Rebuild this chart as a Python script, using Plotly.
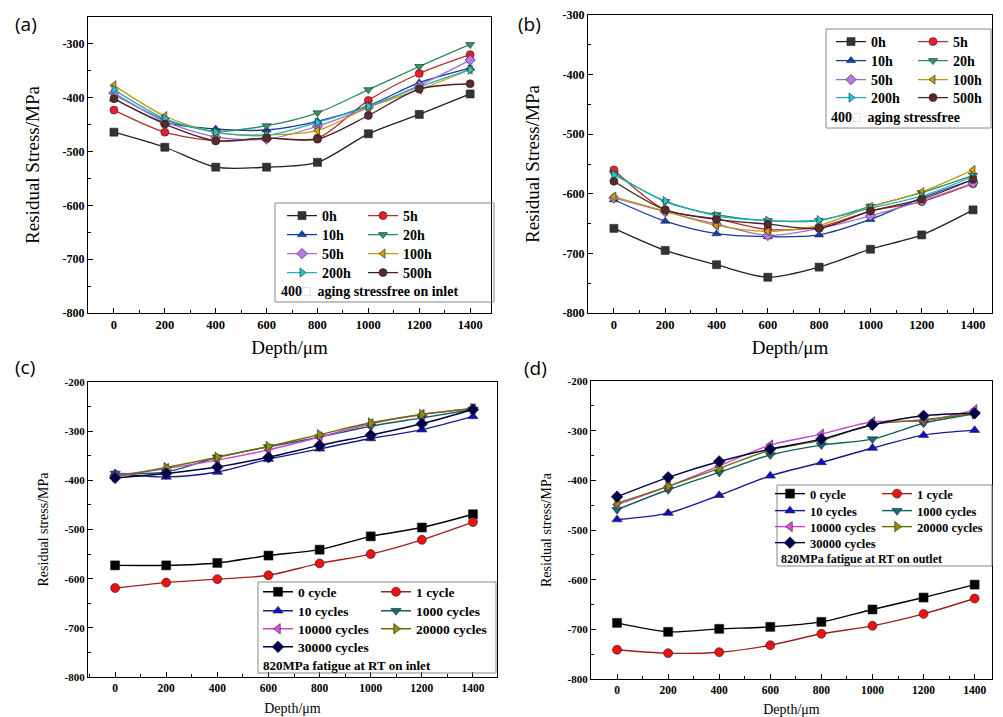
import plotly.graph_objects as go

W, H = 1003, 717
def fx(p): return p / W
def fy(p): return 1 - p / H

depth = [0, 200, 400, 600, 800, 1000, 1200, 1400]

# ---- panel (a): 400 aging, stress free, inlet
aging_labels = ["0h", "5h", "10h", "20h", "50h", "100h", "200h", "500h"]
a_0h   = [-464, -492, -529, -529, -520, -467, -431, -393]
a_5h   = [-423, -464, -480, -475, -475, -405, -355, -320]
a_10h  = [-402, -446, -458, -460, -444, -415, -372, -345]
a_20h  = [-394, -441, -462, -452, -428, -385, -342, -301]
a_50h  = [-391, -444, -473, -477, -453, -418, -377, -330]
a_100h = [-377, -434, -465, -469, -461, -418, -385, -348]
a_200h = [-385, -439, -464, -470, -446, -416, -380, -348]
a_500h = [-402, -449, -480, -475, -477, -433, -384, -374]

# ---- panel (b): 400 aging, stress free
b_0h   = [-658, -695, -719, -740, -723, -693, -669, -627]
b_5h   = [-560, -627, -642, -660, -656, -629, -613, -583]
b_10h  = [-610, -646, -667, -672, -669, -643, -607, -576]
b_20h  = [-566, -613, -635, -645, -645, -621, -598, -569]
b_50h  = [-607, -630, -651, -670, -658, -637, -612, -582]
b_100h = [-605, -629, -653, -663, -653, -622, -597, -560]
b_200h = [-568, -612, -637, -645, -644, -624, -604, -571]
b_500h = [-579, -627, -643, -651, -658, -629, -609, -576]

# ---- panel (c): 820MPa fatigue at RT, inlet
cycle_labels = ["0 cycle", "1 cycle", "10 cycles", "1000 cycles",
                "10000 cycles", "20000 cycles", "30000 cycles"]
c_0     = [-573, -573, -568, -553, -541, -514, -496, -469]
c_1     = [-619, -608, -601, -593, -569, -550, -521, -485]
c_10    = [-386, -393, -383, -357, -336, -315, -297, -270]
c_1000  = [-386, -383, -353, -332, -312, -290, -273, -256]
c_10000 = [-390, -376, -359, -338, -312, -285, -266, -254]
c_20000 = [-393, -374, -353, -331, -307, -283, -266, -254]
c_30000 = [-395, -386, -373, -353, -329, -308, -285, -256]

# ---- panel (d): 820MPa fatigue at RT, outlet
d_0     = [-687, -705, -699, -695, -685, -660, -636, -610]
d_1     = [-741, -748, -746, -732, -709, -693, -669, -638]
d_10    = [-479, -466, -430, -391, -364, -335, -309, -299]
d_1000  = [-459, -419, -384, -349, -329, -317, -285, -266]
d_10000 = [-449, -412, -371, -329, -307, -282, -280, -258]
d_20000 = [-446, -412, -376, -339, -319, -288, -278, -266]
d_30000 = [-433, -394, -362, -337, -317, -288, -270, -265]

xtick_vals = depth
xtick_text = ["0", "200", "400", "600", "800", "1000", "1200", "1400"]
ytick_vals_ab = [-800, -700, -600, -500, -400, -300]
ytick_vals_cd = [-800, -700, -600, -500, -400, -300, -200]

aging_series_a = [a_0h, a_5h, a_10h, a_20h, a_50h, a_100h, a_200h, a_500h]
aging_series_b = [b_0h, b_5h, b_10h, b_20h, b_50h, b_100h, b_200h, b_500h]
cycle_series_c = [c_0, c_1, c_10, c_1000, c_10000, c_20000, c_30000]
cycle_series_d = [d_0, d_1, d_10, d_1000, d_10000, d_20000, d_30000]

aging_style = [
    ("square", "#333333", "#222222"),
    ("circle", "#e8202a", "#b03030"),
    ("triangle-up", "#1040c8", "#1a3a90"),
    ("triangle-down", "#2e9a60", "#2e8b60"),
    ("diamond", "#b878e8", "#a070d0"),
    ("triangle-left", "#d0a000", "#c09a10"),
    ("triangle-right", "#20c8d8", "#20b0c0"),
    ("circle", "#5a2a2a", "#4a2020"),
]
cycle_style = [
    ("square", "#000000", "#000000"),
    ("circle", "#ee1111", "#a02020"),
    ("triangle-up", "#1010c8", "#1a1a90"),
    ("triangle-down", "#107070", "#106060"),
    ("triangle-left", "#e848e8", "#d040d0"),
    ("triangle-right", "#909000", "#707000"),
    ("diamond", "#000050", "#000040"),
]

serif = "Liberation Serif"

fig = go.Figure()
legend_layouts = {}
legend_counter = [0]

def new_legend(text_x, row_y, fs):
    legend_counter[0] += 1
    n = legend_counter[0]
    name = "legend" if n == 1 else f"legend{n}"
    legend_layouts[name] = dict(
        x=fx(text_x - 40), y=fy(row_y), xanchor="left", yanchor="middle",
        bgcolor="rgba(0,0,0,0)", borderwidth=0, itemwidth=30, tracegroupgap=0,
        font=dict(family=serif, size=fs, color="black", weight="bold"))
    return name

def add_panel(idx, series, labels, styles, col_x, row_y, fs, msize, lw):
    xa = "x" if idx == 1 else f"x{idx}"
    ya = "y" if idx == 1 else f"y{idx}"
    for i, (vals, lab, st) in enumerate(zip(series, labels, styles)):
        sym, mc, lc = st
        leg = new_legend(col_x[i % 2], row_y[i // 2], fs)
        fig.add_trace(go.Scatter(
            x=depth, y=vals, name=lab, mode="lines+markers",
            line=dict(color=lc, width=lw, shape="spline", smoothing=0.8),
            marker=dict(symbol=sym, size=msize, color=mc,
                        line=dict(color="#222222", width=0.6)),
            xaxis=xa, yaxis=ya, legend=leg,
        ))

add_panel(1, aging_series_a, aging_labels, aging_style, (322, 403), (216, 235, 254, 273), 14, 8, 1.3)
add_panel(2, aging_series_b, aging_labels, aging_style, (871, 953), (42, 61, 80, 98), 14, 8, 1.3)
add_panel(3, cycle_series_c, cycle_labels, cycle_style, (298, 416), (592, 611, 629, 647), 13.5, 9, 1.4)
add_panel(4, cycle_series_d, cycle_labels, cycle_style, (810, 917), (494, 511, 527, 543), 12.5, 9, 1.4)

def axis_common(rng, dom, tv, tt, fs, dtick_minor):
    return dict(
        range=rng, domain=dom, tickvals=tv, ticktext=tt, automargin=False,
        showline=True, linecolor="black", linewidth=1.2, mirror=True,
        ticks="inside", ticklen=5, tickwidth=1, tickcolor="black",
        minor=dict(ticks="inside", ticklen=3, dtick=dtick_minor, tickcolor="black"),
        showgrid=False, zeroline=False,
        tickfont=dict(family=serif, size=fs, color="black", weight="bold"),
    )

yt_ab = [str(v) for v in ytick_vals_ab]
yt_cd = [str(v) for v in ytick_vals_cd]

layout = dict(
    width=W, height=H, margin=dict(l=0, r=0, t=0, b=0, autoexpand=False),
    paper_bgcolor="white", plot_bgcolor="white", showlegend=True,
)
layout["xaxis"] = axis_common([-102, 1482], [fx(88), fx(491)], xtick_vals, xtick_text, 12.5, 100)
layout["yaxis"] = axis_common([-800, -250], [fy(313), fy(17)], ytick_vals_ab, yt_ab, 12, 50)
layout["xaxis2"] = axis_common([-101, 1474], [fx(588), fx(992)], xtick_vals, xtick_text, 12.5, 100)
layout["yaxis2"] = axis_common([-800, -300], [fy(313), fy(15)], ytick_vals_ab, yt_ab, 12, 50)
layout["xaxis3"] = axis_common([-106, 1494], [fx(88), fx(497)], xtick_vals, xtick_text, 11.5, 100)
layout["yaxis3"] = axis_common([-800, -200], [fy(677), fy(382)], ytick_vals_cd, yt_cd, 11, 50)
layout["xaxis4"] = axis_common([-102, 1468], [fx(591), fx(992)], xtick_vals, xtick_text, 11.5, 100)
layout["yaxis4"] = axis_common([-800, -200], [fy(679), fy(381)], ytick_vals_cd, yt_cd, 11, 50)

layout["xaxis2"]["anchor"] = "y2"; layout["yaxis2"]["anchor"] = "x2"
layout["xaxis3"]["anchor"] = "y3"; layout["yaxis3"]["anchor"] = "x3"
layout["xaxis4"]["anchor"] = "y4"; layout["yaxis4"]["anchor"] = "x4"

big = dict(family=serif, size=19, color="black")
small = dict(family=serif, size=14, color="black")
layout["xaxis"]["title"] = dict(text="Depth/μm", font=big, standoff=9)
layout["xaxis2"]["title"] = dict(text="Depth/μm", font=big, standoff=9)
layout["yaxis"]["title"] = dict(text="Residual Stress/MPa", font=big, standoff=17)
layout["yaxis2"]["title"] = dict(text="Residual Stress/MPa", font=big, standoff=17)
layout["xaxis3"]["title"] = dict(text="Depth/μm", font=small, standoff=10)
layout["xaxis4"]["title"] = dict(text="Depth/μm", font=small, standoff=9)
layout["yaxis3"]["title"] = dict(text="Residual stress/MPa", font=small, standoff=12)
layout["yaxis4"]["title"] = dict(text="Residual stress/MPa", font=small, standoff=12)

layout.update(legend_layouts)
fig.update_layout(**layout)

# legend frames
frames = [(275, 203, 494, 302), (826, 29, 991, 128), (258, 582, 496, 673), (777, 485, 992, 566)]
for (x0, y0, x1, y1) in frames:
    fig.add_shape(type="rect", xref="paper", yref="paper",
                  x0=fx(x0), x1=fx(x1), y0=fy(y1), y1=fy(y0),
                  line=dict(color="#888888", width=1), fillcolor="rgba(0,0,0,0)")

box = "<span style='color:#cfcfcf'>□</span>"
captions = [
    (279, 292, "400" + box + "  aging stressfree on inlet", 14),
    (829, 118, "400" + box + "  aging stressfree", 14),
    (261, 665, "820MPa fatigue at RT on inlet", 13),
    (779, 559, "820MPa fatigue at RT on outlet", 12),
]
for (xp, yp, txt, fs) in captions:
    fig.add_annotation(xref="paper", yref="paper", x=fx(xp), y=fy(yp),
                       xanchor="left", yanchor="middle", showarrow=False,
                       text=txt, font=dict(family=serif, size=fs, color="black", weight="bold"))

panel_labels = [(26, 24, "(a)"), (529, 24, "(b)"), (25, 367, "(c)"), (535, 368, "(d)")]
for (xp, yp, txt) in panel_labels:
    fig.add_annotation(xref="paper", yref="paper", x=fx(xp), y=fy(yp),
                       xanchor="center", yanchor="middle", showarrow=False,
                       text=txt, font=dict(family="Open Sans, Liberation Sans, sans-serif", size=19, color="black"))

fig.write_html("out.html")
